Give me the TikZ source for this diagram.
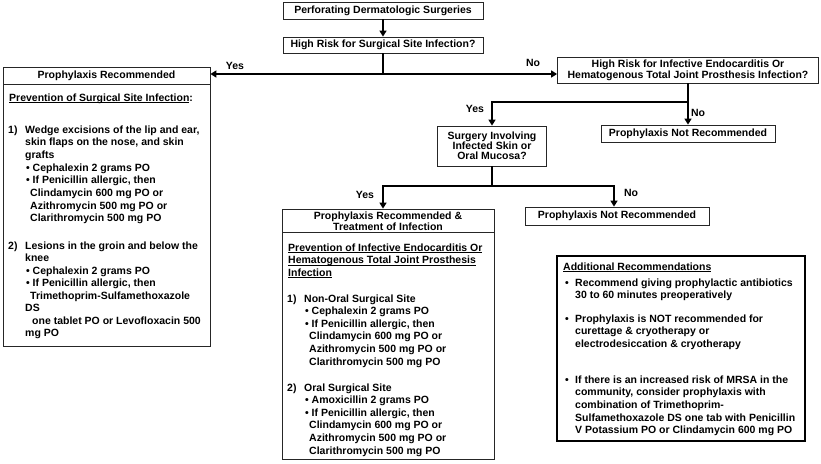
\documentclass[tikz,border=0pt]{standalone}
\usepackage{fontspec}
\setmainfont{Liberation Sans}
\usetikzlibrary{arrows.meta}
\newsavebox\ulbox
\newcommand\myul[1]{\sbox\ulbox{#1}\rlap{\rule[-1.7pt]{\wd\ulbox}{0.7pt}}\usebox\ulbox}
\newcommand\lines[2][12.6pt]{\vtop{\baselineskip=#1\relax\lineskiplimit=-20pt\halign{##\hfil\cr#2\crcr}}}
\newcommand\ia{\hspace*{17pt}}
\newcommand\ib{\hspace*{18pt}\makebox[6.5pt][l]{•}}
\newcommand\ic{\hspace*{22pt}}
\newcommand\ra{\makebox[10pt][l]{•}}
\newcommand\rb{\hspace*{10pt}}
\begin{document}
\begin{tikzpicture}[x=1pt,y=-1pt,
  every node/.style={font=\bfseries\fontsize{10.5}{12.6}\selectfont, inner sep=0pt},
  box/.style={draw=black!85, line width=0.8pt},
  conn/.style={line width=2pt, draw=black},
  arr/.style={conn, -{Triangle[width=7pt,length=6pt]}},
  txt/.style={anchor=base west}]
\useasboundingbox (0,0) rectangle (821,463);

% decision boxes
\node[box, minimum width=200pt, minimum height=17pt] (n1) at (383,10.5) {Perforating Dermatologic Surgeries};
\node[box, minimum width=200pt, minimum height=16pt] (n2) at (383,45) {High Risk for Surgical Site Infection?};
\node[box, minimum width=261pt, minimum height=26pt, align=center, font=\bfseries\fontsize{10.5}{11}\selectfont] (n3) at (688,70) {High Risk for Infective Endocarditis Or\\Hematogenous Total Joint Prosthesis Infection?};
\node[box, minimum width=174pt, minimum height=17pt] (n4) at (688,133.5) {Prophylaxis Not Recommended};
\node[box, minimum width=109pt, minimum height=40pt, align=center, font=\bfseries\fontsize{10.5}{10}\selectfont] (n5) at (492,146) {Surgery Involving\\Infected Skin or\\Oral Mucosa?};
\node[box, minimum width=184pt, minimum height=18pt] (n7) at (617,216) {Prophylaxis Not Recommended};

% left box
\node[box, minimum width=207pt, minimum height=279pt] (lb) at (106.5,206.5) {};
\node (lbh) at (106.5,75.5) {Prophylaxis Recommended};
\draw[box] (3,84) -- (210,84);
\node[txt] (lp) at (9,101) {\myul{Prevention of Surgical Site Infection}:};
\node[txt] (l1) at (8,133) {\lines[12.7pt]{\makebox[17pt][l]{1)}Wedge excisions of the lip and ear,\cr
\ia skin flaps on the nose, and skin\cr
\ia grafts\cr
\ib Cephalexin 2 grams PO\cr
\ib If Penicillin allergic, then\cr
\ic Clindamycin 600 mg PO or\cr
\ic Azithromycin 500 mg PO or\cr
\ic Clarithromycin 500 mg PO}};
\node[txt] (l2) at (8,249) {\lines[12.5pt]{\makebox[17pt][l]{2)}Lesions in the groin and below the\cr
\ia knee\cr
\ib Cephalexin 2 grams PO\cr
\ib If Penicillin allergic, then\cr
\ic Trimethoprim-Sulfamethoxazole\cr
\ia DS\cr
\hspace*{24pt}one tablet PO or Levofloxacin 500\cr
\ia mg PO}};

% middle box
\node[box, minimum width=212pt, minimum height=250pt] (n6) at (388,334) {};
\node[align=center, font=\bfseries\fontsize{10.5}{9.5}\selectfont] (mbh) at (388,221) {Prophylaxis Recommended \&\\Treatment of Infection};
\draw[box] (282,232) -- (494,232);
\node[txt] (mp) at (288,251) {\lines{\myul{Prevention of Infective Endocarditis Or}\cr
\myul{Hematogenous Total Joint Prosthesis}\cr
\myul{Infection}}};
\node[txt] (m1) at (287,302) {\lines{\makebox[17pt][l]{1)}Non-Oral Surgical Site\cr
\ib Cephalexin 2 grams PO\cr
\ib If Penicillin allergic, then\cr
\ic Clindamycin 600 mg PO or\cr
\ic Azithromycin 500 mg PO or\cr
\ic Clarithromycin 500 mg PO}};
\node[txt] (m2) at (287,391) {\lines{\makebox[17pt][l]{2)}Oral Surgical Site\cr
\ib Amoxicillin 2 grams PO\cr
\ib If Penicillin allergic, then\cr
\ic Clindamycin 600 mg PO or\cr
\ic Azithromycin 500 mg PO or\cr
\ic Clarithromycin 500 mg PO}};

% right box
\node[draw=black, line width=2.5pt, minimum width=248pt, minimum height=185pt] (rb) at (681,348.5) {};
\node[txt] (ra) at (563,270) {\myul{Additional Recommendations}};
\node[txt] (r1) at (565,286) {\lines[12.8pt]{\ra Recommend giving prophylactic antibiotics\cr
\rb 30 to 60 minutes preoperatively}};
\node[txt] (r2) at (565,322) {\lines[12.8pt]{\ra Prophylaxis is NOT recommended for\cr
\rb curettage \& cryotherapy or\cr
\rb electrodesiccation \& cryotherapy}};
\node[txt] (r3) at (565,383) {\lines[12.7pt]{\ra If there is an increased risk of MRSA in the\cr
\rb community, consider prophylaxis with\cr
\rb combination of Trimethoprim-\cr
\rb Sulfamethoxazole DS one tab with Penicillin\cr
\rb V Potassium PO or Clindamycin 600 mg PO}};

% connectors
\draw[arr] (n1.south) -- (n2.north);
\coordinate (j1) at (383,74);
\draw[conn] (n2.south) -- (j1);
\draw[arr] (j1) -- (lb.east |- j1);
\draw[arr] (j1) -- (n3.west |- j1);
\coordinate (j2) at (688,102);
\draw[arr] (n3.south) -- (n4.north);
\draw[arr] (j2) -| (n5.north);
\coordinate (j3) at (492,186);
\draw[conn] (n5.south) -- (j3);
\draw[arr] (j3) -| ([xshift=-5pt]n6.north);
\draw[arr] (j3) -| ([xshift=-3pt]n7.north);

% labels
\node (y1) at (235,66) {Yes};
\node (no1) at (533,63) {No};
\node (y2) at (475,109) {Yes};
\node (no2) at (698,113) {No};
\node (y3) at (365,195) {Yes};
\node (no3) at (631,193) {No};
\end{tikzpicture}
\end{document}
